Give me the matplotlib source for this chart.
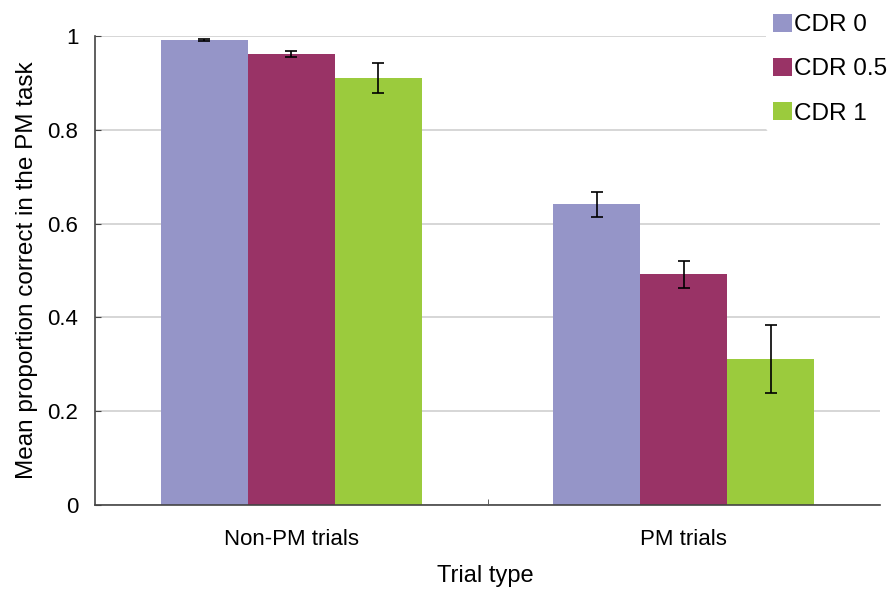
import matplotlib
matplotlib.use("Agg")
import matplotlib.pyplot as plt
import numpy as np

plt.rcParams['font.family'] = ['Liberation Sans', 'DejaVu Sans']

categories = ["Non-PM trials", "PM trials"]
series = ["CDR 0", "CDR 0.5", "CDR 1"]
values = {
    "CDR 0": [0.991, 0.641],
    "CDR 0.5": [0.961, 0.492],
    "CDR 1": [0.910, 0.311],
}
errors = {
    "CDR 0": [0.002, 0.027],
    "CDR 0.5": [0.006, 0.029],
    "CDR 1": [0.032, 0.072],
}
colors = ["#9595C8", "#993366", "#9BCB3D"]
yticks = [0, 0.2, 0.4, 0.6, 0.8, 1]
ytick_labels = ["0", "0.2", "0.4", "0.6", "0.8", "1"]

fig = plt.figure(figsize=(8.94, 5.93), dpi=100)
ax = fig.add_axes([95/894, 88/593, 785/894, 469/593])

x = np.arange(len(categories))
w = 0.222
for i, s in enumerate(series):
    ax.bar(x + (i - 1) * w, values[s], width=w, color=colors[i], label=s, zorder=2)
    ax.errorbar(x + (i - 1) * w, values[s], yerr=errors[s], fmt='none', ecolor='black',
                elinewidth=1.2, capsize=4.3, capthick=1.2, zorder=3)

ax.set_xlim(-0.5, 1.5)
ax.set_ylim(0, 1)
ax.set_yticks(yticks)
ax.set_yticklabels(ytick_labels)
ax.set_xticks(x)
ax.set_xticklabels(categories)
ax.set_xticks([0.5], minor=True)
ax.tick_params(axis='x', which='major', length=0, pad=17, labelsize=16)
ax.tick_params(axis='x', which='minor', length=4.3, direction='in', color='#444444')
ax.tick_params(axis='y', length=4.3, direction='in', color='#444444', labelsize=16, pad=12)
ax.yaxis.grid(True, color='#d0d0d0', linewidth=1.2, zorder=0)
ax.set_axisbelow(True)
for sp in ['top', 'right']:
    ax.spines[sp].set_visible(False)
for sp in ['left', 'bottom']:
    ax.spines[sp].set_color('#444444')
    ax.spines[sp].set_linewidth(1.2)

ax.set_ylabel("Mean proportion correct in the PM task", fontsize=17.5)
ax.yaxis.set_label_coords(-0.072, 0.5)
ax.set_xlabel("Trial type", fontsize=17)
ax.xaxis.set_label_coords(0.497, -0.128)

leg = ax.legend(loc='upper right', bbox_to_anchor=(1.019, 1.063), frameon=True,
                fontsize=17.5, handlelength=0.75, handleheight=0.75, handletextpad=0.12,
                labelspacing=0.9, borderpad=0.3, borderaxespad=0.0)
leg.get_frame().set_edgecolor('none')
leg.get_frame().set_facecolor('white')
leg.get_frame().set_alpha(1)

fig.savefig("out.png", dpi=100)
